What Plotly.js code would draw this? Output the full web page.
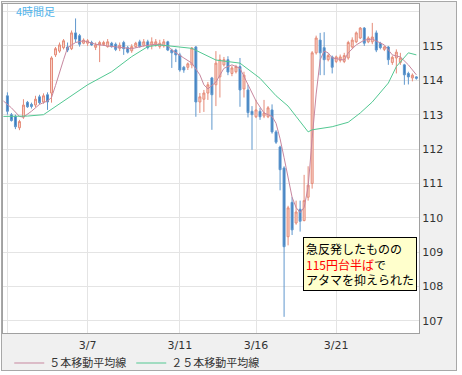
<!DOCTYPE html>
<html><head><meta charset="utf-8">
<script src="https://cdn.plot.ly/plotly-3.0.1.min.js"></script>
<style>
html,body{margin:0;padding:0;background:#fff;}
#frame{position:absolute;left:1px;top:1px;width:454px;height:368px;background:#f0f0f0;border:1px solid #a8a8a8;}
#chart{position:absolute;left:0;top:0;width:462px;height:375px;}
</style></head><body>
<div id="frame"></div><div id="chart"></div>
<script>
// 4-hour candles, index 0..102
const openP = [113.55,113.00,112.95,112.62,112.93,113.36,113.30,113.28,113.52,113.37,
113.58,113.63,114.74,114.85,114.95,114.97,114.92,115.38,115.30,115.08,
115.08,115.10,114.96,115.03,115.04,114.98,115.08,115.05,114.93,115.10,
114.95,114.86,114.98,115.12,115.02,115.12,115.02,115.05,114.98,115.00,
115.12,114.88,114.88,114.74,114.38,114.38,114.45,114.97,113.37,113.45,
113.63,114.07,113.87,114.10,114.45,114.60,114.20,114.25,114.40,113.75,
113.72,113.10,112.94,113.10,112.96,112.94,113.14,112.50,112.06,111.45,
109.45,110.45,109.85,110.25,109.92,110.60,111.00,114.80,115.17,114.95,
114.60,114.68,114.55,114.58,114.55,114.65,114.97,115.12,115.23,115.52,
115.12,115.12,115.38,115.08,114.90,114.97,114.52,114.65,114.52,114.45,
114.20,114.07,114.10];
const highP = [113.65,113.05,113.00,112.85,113.45,113.40,113.35,113.55,113.58,113.62,
113.65,114.70,114.97,115.10,115.20,115.10,115.45,115.80,115.35,115.22,
115.20,115.15,115.10,115.15,115.15,115.20,115.12,115.10,115.10,115.15,
115.00,115.05,115.12,115.18,115.20,115.18,115.25,115.20,115.18,115.20,
115.15,114.92,114.92,114.80,114.42,114.52,114.97,115.00,113.63,113.72,
113.95,114.10,114.85,114.75,114.68,114.70,114.42,114.45,114.65,114.25,
113.87,113.25,113.43,113.20,113.43,113.25,113.30,112.55,112.10,111.50,
110.35,110.60,110.50,110.50,111.25,111.50,114.85,115.30,115.38,115.40,
114.78,114.72,114.72,114.75,114.80,115.15,115.25,115.42,115.55,115.55,
115.28,115.67,115.45,115.12,115.00,115.00,114.72,114.90,114.80,114.48,
114.25,114.20,114.12];
const lowP = [113.00,112.80,112.58,112.55,112.88,113.20,113.18,113.22,113.30,113.32,
113.14,113.35,114.68,114.80,114.90,114.82,114.88,115.10,114.98,115.05,
115.00,115.00,114.88,114.53,115.00,114.95,114.95,114.85,114.85,114.74,
114.78,114.80,114.95,114.95,114.98,114.90,114.90,114.98,114.92,114.95,
114.85,114.36,114.53,114.25,114.22,114.30,114.35,112.94,113.05,113.08,
113.43,112.56,113.25,113.50,114.40,114.15,114.12,114.20,113.23,113.50,
112.92,111.98,112.90,112.85,112.90,112.90,112.45,112.15,110.80,107.12,
109.20,109.50,109.80,109.60,109.90,110.50,110.85,114.75,114.15,114.15,
114.55,114.20,114.50,114.52,114.50,114.60,114.92,115.08,115.20,115.00,
115.08,115.05,114.82,114.90,114.85,114.45,114.45,114.20,114.45,113.87,
113.88,113.97,114.02];
const closeP = [113.10,112.83,112.65,112.80,113.28,113.23,113.24,113.45,113.35,113.55,
113.37,114.65,114.92,115.03,115.15,114.88,115.38,115.20,115.05,115.17,
115.15,115.03,115.03,115.10,115.10,115.12,114.98,114.90,115.02,114.92,
114.82,114.98,115.08,114.98,115.12,114.95,115.12,115.12,115.08,115.12,
114.88,114.80,114.74,114.30,114.30,114.48,114.94,113.37,113.52,113.63,
113.87,113.58,114.50,114.60,114.60,114.24,114.36,114.40,113.72,114.15,
113.06,113.00,113.14,112.94,113.05,113.20,112.50,112.20,111.40,109.16,
110.29,109.65,110.17,109.90,110.50,110.95,114.80,115.23,114.80,114.60,
114.72,114.38,114.68,114.68,114.72,115.10,115.17,115.38,115.52,115.08,
115.23,115.26,114.88,114.95,114.97,114.60,114.67,114.82,114.65,114.16,
114.10,114.15,114.06];
const candleIdx = openP.map((_, i) => i);

// moving averages (index, value)
const ma5X = [-1,1,3,4,6,8,10,11,12,13,14,15,17,19,22,25,28,31,34,37,40,41,44,46,48,49,50,52,54,56,58,60,62,64,66,67,68,69,70,71,72,73,74,75,76,77,78,79,80,81,84,85,87,89,91,94,96,98,100,102];
const ma5Y = [113.40,113.20,112.95,112.93,113.10,113.30,113.40,113.50,113.85,114.25,114.60,114.95,115.10,115.15,115.05,115.00,114.95,114.92,115.00,115.05,115.00,114.88,114.65,114.50,114.16,113.87,113.75,113.95,114.35,114.45,114.35,113.85,113.40,113.05,112.95,112.75,112.30,111.75,111.15,110.60,110.30,110.15,110.30,110.90,112.30,113.60,114.60,114.85,114.80,114.65,114.59,114.80,115.03,115.17,115.20,115.03,114.74,114.68,114.45,114.16];
const ma25X = [-1,5,9,15,20,26,31,35,38,46,52,58,63,67,70,72,75,76,81,85,88,91,95,97,100,102];
const ma25Y = [112.95,112.96,113.00,113.48,113.87,114.25,114.69,114.98,115.03,114.93,114.59,114.50,114.06,113.55,113.25,112.95,112.50,112.56,112.65,112.78,113.05,113.37,113.92,114.40,114.80,114.74];

const tickIdx = [0, 20, 43, 62, 82];
const tickLabels = ['', '3/7', '3/11', '3/16', '3/21'];
const yTicks = [107,108,109,110,111,112,113,114,115,116];
const yLabels = ['107','108','109','110','111','112','113','114','115',''];
const seriesNames = ['５本移動平均線', '２５本移動平均線'];

const traces = [
  {type:'candlestick', x:candleIdx, open:openP, high:highP, low:lowP, close:closeP,
   increasing:{line:{color:'#e58b78', width:1}, fillcolor:'#f8d3c9'},
   decreasing:{line:{color:'#5f97cd', width:1}, fillcolor:'#3a7cbf'},
   showlegend:false, hoverinfo:'skip'},
  {type:'scatter', mode:'lines', x:ma5X, y:ma5Y, name:seriesNames[0],
   line:{color:'#c7879f', width:1}, hoverinfo:'skip'},
  {type:'scatter', mode:'lines', x:ma25X, y:ma25Y, name:seriesNames[1],
   line:{color:'#52c892', width:1}, hoverinfo:'skip'}
];

const layout = {
  width:462, height:375,
  margin:{l:3, r:43, t:4, b:42, pad:0},
  paper_bgcolor:'rgba(0,0,0,0)', plot_bgcolor:'#ffffff',
  showlegend:true,
  legend:{orientation:'h', xref:'container', yref:'container', x:0.02, y:0.032,
    xanchor:'left', yanchor:'middle',
    font:{family:'Noto Sans CJK JP', size:11, color:'#333'}, bgcolor:'rgba(0,0,0,0)'},
  xaxis:{range:[-1.1,102.65], tickmode:'array', tickvals:tickIdx, ticktext:tickLabels,
    showgrid:true, gridcolor:'#e4e4e4', gridwidth:1, showline:true, mirror:true,
    linecolor:'#a0a0a0', linewidth:1, ticks:'', zeroline:false, ticklabelstandoff:2,
    rangeslider:{visible:false}, fixedrange:true,
    tickfont:{family:'DejaVu Sans', size:11, color:'#333'}},
  yaxis:{side:'right', range:[106.65,116.22], tickmode:'array', tickvals:yTicks, ticktext:yLabels,
    showgrid:true, gridcolor:'#e4e4e4', gridwidth:1, showline:true, mirror:true,
    linecolor:'#a0a0a0', linewidth:1, ticks:'', zeroline:false, fixedrange:true,
    tickfont:{family:'DejaVu Sans', size:11, color:'#333'}},
  annotations:[
    {xref:'paper', yref:'paper', x:0.026, y:0.979, xanchor:'left', yanchor:'middle',
     text:'4時間足', showarrow:false,
     font:{family:'Noto Sans CJK JP', size:11, color:'#4fb3ea'}},
    {xref:'paper', yref:'paper', x:0.857, y:0.21, xanchor:'center', yanchor:'middle',
     text:'急反発したものの<br><span style="color:#ff0000">115円台半ば</span>で<br>アタマを抑えられた',
     showarrow:false, align:'left', bgcolor:'#ffffcc', bordercolor:'#000', borderwidth:1, borderpad:2,
     font:{family:'Noto Sans CJK JP', size:12, color:'#000'}}
  ]
};

Plotly.newPlot('chart', traces, layout, {displayModeBar:false, staticPlot:true});
</script></body></html>
